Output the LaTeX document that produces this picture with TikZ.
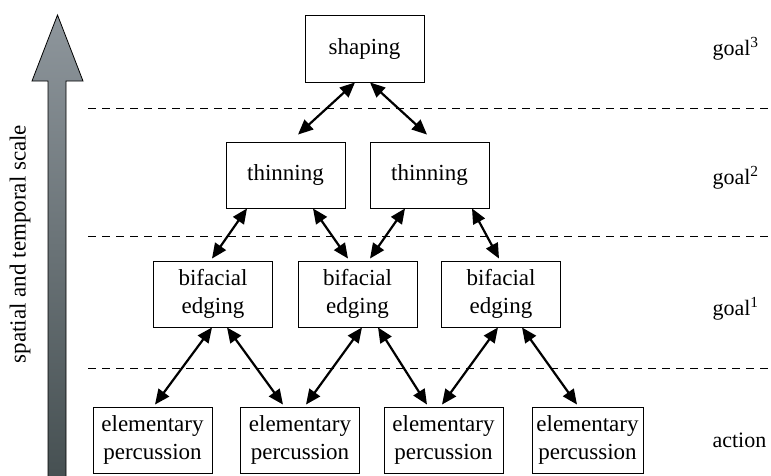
\documentclass[tikz,border=0pt]{standalone}
\usepackage{fontspec}
\setmainfont{Liberation Serif}
\usetikzlibrary{arrows.meta}
\definecolor{scaletop}{RGB}{142,150,156}
\definecolor{scalebot}{RGB}{70,80,82}
\begin{document}
\begin{tikzpicture}[x=1pt, y=-1pt,
    box/.style = {shape=rectangle, draw, line width=0.9pt, align=center,
      minimum width=119pt, minimum height=66pt, inner sep=2pt,
      font=\fontsize{23}{28}\selectfont},
    biarrow/.style = {{Triangle[length=15pt,width=13pt]}-{Triangle[length=15pt,width=13pt]},
      line width=2.2pt},
    level/.style = {dashed, line width=0.9pt, dash pattern=on 8pt off 6pt},
    side/.style = {anchor=base west, font=\fontsize{22}{26}\selectfont}]
  \useasboundingbox (0,0) rectangle (771,475);
  % scale arrow
  \shade[top color=scaletop, bottom color=scalebot, draw=black, line width=0.8pt]
    (48,478) -- (48,81) -- (32,81) -- (57.5,15) -- (83,81) -- (66,81) -- (66,478) -- cycle;
  \node[rotate=90, font=\fontsize{23}{28}\selectfont] (scale) at (20,244) {spatial and temporal scale};
  % level separators
  \draw[level] (88,108) -- (771,108);
  \draw[level] (88,236) -- (771,236);
  \draw[level] (88,368) -- (771,368);
  % boxes
  \node[box, minimum height=67pt] (shaping) at (364.5,48.5) {shaping};
  \node[box] (thinL) at (285.5,175) {thinning};
  \node[box] (thinR) at (429.5,175) {thinning};
  \node[box] (bifA) at (213,294) {bifacial\\edging};
  \node[box] (bifB) at (357.5,294) {bifacial\\edging};
  \node[box] (bifC) at (501,294) {bifacial\\edging};
  \node[box] (elemA) at (152.5,440) {elementary\\percussion};
  \node[box] (elemB) at (300,440) {elementary\\percussion};
  \node[box] (elemC) at (443.5,440) {elementary\\percussion};
  \node[box, minimum width=111pt] (elemD) at (587.5,440) {elementary\\percussion};
  % links
  \draw[biarrow] ([xshift=-9.5pt]shaping.south) -- ([xshift=12.5pt,yshift=7pt]thinL.north);
  \draw[biarrow] ([xshift=5.5pt]shaping.south) -- ([xshift=-2.5pt,yshift=7pt]thinR.north);
  \draw[biarrow] ([xshift=-38.5pt]thinL.south) -- ([xshift=-1pt,yshift=2pt]bifA.north);
  \draw[biarrow] ([xshift=27.5pt]thinL.south) -- ([xshift=-9.5pt,yshift=2pt]bifB.north);
  \draw[biarrow] ([xshift=-24.5pt]thinR.south) -- ([xshift=12.5pt,yshift=2pt]bifB.north);
  \draw[biarrow] ([xshift=42.5pt]thinR.south) -- ([xshift=-2pt,yshift=2pt]bifC.north);
  \draw[biarrow] ([xshift=-1pt]bifA.south) -- ([xshift=2.5pt,yshift=2pt]elemA.north);
  \draw[biarrow] ([xshift=14pt]bifA.south) -- ([xshift=-17pt,yshift=2pt]elemB.north);
  \draw[biarrow] ([xshift=4.5pt]bifB.south) -- ([xshift=6pt,yshift=2pt]elemB.north);
  \draw[biarrow] ([xshift=20.5pt]bifB.south) -- ([xshift=-16.5pt,yshift=2pt]elemC.north);
  \draw[biarrow] ([xshift=-3pt]bifC.south) -- ([xshift=-1.5pt,yshift=2pt]elemC.north);
  \draw[biarrow] ([xshift=21pt]bifC.south) -- ([xshift=-10.5pt,yshift=2pt]elemD.north);
  % level names
  \node[side] (goalC) at (709,55) {goal\textsuperscript{3}};
  \node[side] (goalB) at (709,184) {goal\textsuperscript{2}};
  \node[side] (goalA) at (709,315) {goal\textsuperscript{1}};
  \node[side] (action) at (709,447) {action};
\end{tikzpicture}
\end{document}
